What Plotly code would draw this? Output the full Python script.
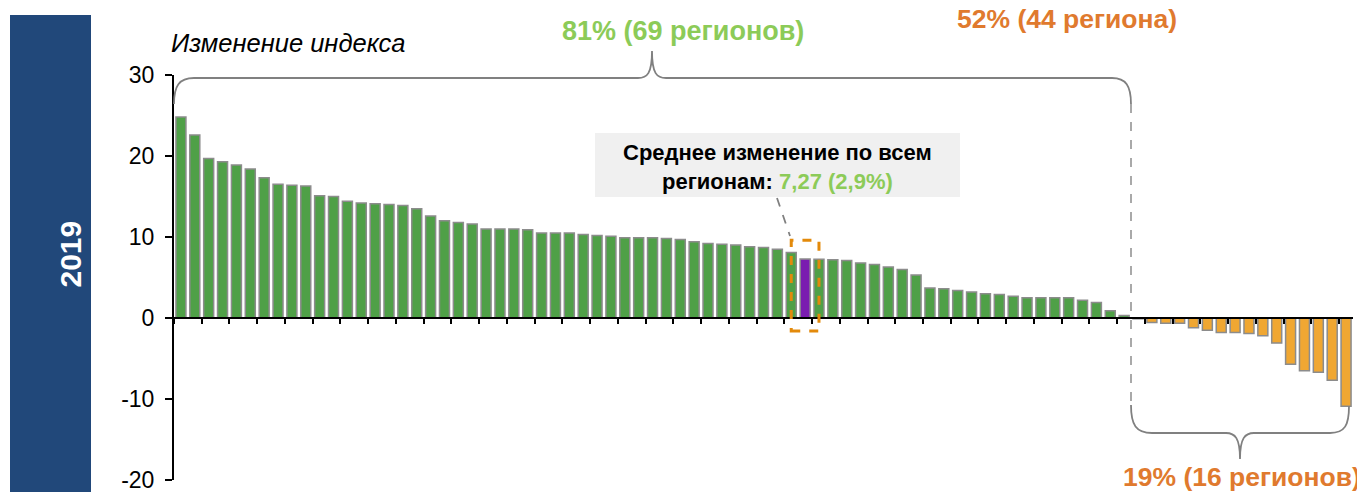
import plotly.graph_objects as go

# ---------------- data ----------------
regions = [str(i) for i in range(1, 86)]
values = [24.8, 22.6, 19.7, 19.3, 18.9, 18.4, 17.3, 16.5, 16.4, 16.3,
          15.1, 15.0, 14.4, 14.2, 14.1, 14.0, 13.9, 13.5, 12.6, 12.0,
          11.8, 11.6, 11.0, 11.0, 11.0, 10.9, 10.5, 10.5, 10.5, 10.3,
          10.2, 10.1, 9.9, 9.9, 9.9, 9.8, 9.7, 9.4, 9.2, 9.1,
          9.0, 8.8, 8.7, 8.5, 8.1, 7.27, 7.25, 7.2, 7.1, 6.8,
          6.6, 6.3, 6.0, 5.3, 3.7, 3.6, 3.4, 3.2, 3.0, 2.9,
          2.7, 2.5, 2.5, 2.5, 2.5, 2.2, 1.9, 0.9, 0.3,
          -0.1, -0.55, -0.65, -0.65, -1.2, -1.5, -1.8, -1.8, -1.9, -2.2,
          -3.1, -5.7, -6.5, -6.7, -7.7, -10.9]
mean_region = "46"           # bar that stands for the average over all regions
y_ticks = [-20, -10, 0, 10, 20, 30]

title_text = "Изменение индекса"
year_text = "2019"
growth_text = "81% (69 регионов)"
above_avg_text = "52% (44 региона)"
decline_text = "19% (16 регионов)"
mean_line1 = "Среднее изменение по всем"
mean_label = "регионам: "
mean_value = "7,27 (2,9%)"

# ---------------- styles ----------------
GREEN = "#4FA047"
ORANGE = "#F0A732"
PURPLE = "#7A1CB0"
OUTLINE = "#8C8C8C"
LIGHT_GREEN = "#8CCB58"
TEXT_ORANGE = "#E07A2E"
NAVY = "#21487A"
FONT = "Arial, 'Liberation Sans', sans-serif"

colors = []
for r, v in zip(regions, values):
    if r == mean_region:
        colors.append(PURPLE)
    elif v >= 0:
        colors.append(GREEN)
    else:
        colors.append(ORANGE)

# the page body has an 8px margin: the figure is placed at (8, 8)
OFF = 8
WIN_W, WIN_H = 1365, 492
W, H = WIN_W - OFF, WIN_H - OFF
PLOT_L, PLOT_R, PLOT_T, PLOT_B = 174, 1353, 75, 480      # window pixels
ML, MR, MT, MB = PLOT_L - OFF, WIN_W - PLOT_R, PLOT_T - OFF, WIN_H - PLOT_B
PW, PH = PLOT_R - PLOT_L, PLOT_B - PLOT_T


def px(x):
    return (x - PLOT_L) / PW


def py(y):
    return (PLOT_B - y) / PH


def path(cmds):
    out = []
    for c in cmds:
        if isinstance(c, str):
            out.append(c)
        else:
            out.append(f"{px(c[0]):.5f},{py(c[1]):.5f}")
    return " ".join(out)


fig = go.Figure()
fig.add_trace(go.Bar(
    x=regions, y=values,
    marker=dict(color=colors, line=dict(color=OUTLINE, width=1.5)),
    hoverinfo="x+y",
))

shapes = []
# navy side panel
shapes.append(dict(type="rect", xref="paper", yref="paper",
                   x0=px(10), x1=px(91), y0=py(WIN_H + 5), y1=py(15),
                   fillcolor=NAVY, line=dict(width=0), layer="below"))
# top brace
top_brace = path(["M", (174, 104), "C", (174, 86), (179, 78), (194, 78),
                  "L", (638, 78), "C", (647, 78), (652, 74), (652, 51),
                  "C", (652, 74), (657, 78), (666, 78),
                  "L", (1112, 78), "C", (1126, 78), (1131, 86), (1131, 104)])
shapes.append(dict(type="path", xref="paper", yref="paper", path=top_brace,
                   line=dict(color="#808080", width=1.8)))
# bottom brace
bot_brace = path(["M", (1131, 405), "C", (1131, 425), (1136, 433), (1152, 433),
                  "L", (1226, 433), "C", (1235, 433), (1240, 438), (1240, 459),
                  "C", (1240, 438), (1245, 433), (1254, 433),
                  "L", (1330, 433), "C", (1345, 433), (1349, 425), (1349, 406)])
shapes.append(dict(type="path", xref="paper", yref="paper", path=bot_brace,
                   line=dict(color="#808080", width=1.8)))
# dashed separator
shapes.append(dict(type="line", xref="paper", yref="paper",
                   x0=px(1131), x1=px(1131), y0=py(104), y1=py(405),
                   line=dict(color="#A0A0A0", width=1.8, dash="dash")))
# mean box
shapes.append(dict(type="rect", xref="paper", yref="paper",
                   x0=px(595), x1=px(960), y0=py(197), y1=py(133),
                   fillcolor="#F0F0F0", line=dict(width=0), layer="below"))
# leader line
shapes.append(dict(type="line", xref="paper", yref="paper",
                   x0=px(777), y0=py(198), x1=px(790), y1=py(236),
                   line=dict(color="#808080", width=1.8, dash="dash")))
# orange dashed highlight around the mean bar
mi = regions.index(mean_region)
shapes.append(dict(type="rect", xref="x", yref="y",
                   x0=mi - 1, x1=mi + 1, y0=-1.6, y1=9.6,
                   line=dict(color="#E38A0B", width=3, dash="dash")))

annotations = [
    dict(text=f"<b>{year_text}</b>", xref="paper", yref="paper",
         x=px(51), y=py(254), showarrow=False, textangle=-90,
         font=dict(family=FONT, size=30, color="white")),
    dict(text=f"<i>{title_text}</i>", xref="paper", yref="paper",
         x=px(169), y=py(43), xanchor="left", yanchor="middle", showarrow=False,
         font=dict(family=FONT, size=25.5, color="black")),
    dict(text=f"<b>{growth_text}</b>", xref="paper", yref="paper",
         x=px(683), y=py(31), xanchor="center", yanchor="middle", showarrow=False,
         font=dict(family=FONT, size=27, color=LIGHT_GREEN)),
    dict(text=f"<b>{above_avg_text}</b>", xref="paper", yref="paper",
         x=px(1067), y=py(19), xanchor="center", yanchor="middle", showarrow=False,
         font=dict(family=FONT, size=26.5, color=TEXT_ORANGE)),
    dict(text=f"<b>{decline_text}</b>", xref="paper", yref="paper",
         x=px(1242), y=py(477), xanchor="center", yanchor="middle", showarrow=False,
         font=dict(family=FONT, size=26.5, color=TEXT_ORANGE)),
    dict(text=f"<b>{mean_line1}</b>", xref="paper", yref="paper",
         x=px(777), y=py(153), xanchor="center", yanchor="middle", showarrow=False,
         font=dict(family=FONT, size=22, color="black")),
    dict(text=f"<b>{mean_label}<span style='color:{LIGHT_GREEN}'>{mean_value}</span></b>",
         xref="paper", yref="paper",
         x=px(777), y=py(181), xanchor="center", yanchor="middle", showarrow=False,
         font=dict(family=FONT, size=22, color="black")),
]

fig.update_layout(
    width=W, height=H,
    margin=dict(l=ML, r=MR, t=MT, b=MB, pad=0, autoexpand=False),
    paper_bgcolor="white", plot_bgcolor="white",
    showlegend=False, bargap=0.28,
    shapes=shapes, annotations=annotations,
    font=dict(family=FONT, color="black"),
    xaxis=dict(type="category", range=[-0.5, len(regions) - 0.5],
               anchor="free", position=py(318),
               showline=True, linecolor="black", linewidth=2,
               ticks="outside", tickson="boundaries", ticklen=5, tickwidth=2,
               tickcolor="black", showticklabels=False, showgrid=False,
               zeroline=False, fixedrange=True),
    yaxis=dict(range=[-20, 30], tickvals=y_ticks, ticktext=[str(t) for t in y_ticks],
               showline=True, linecolor="black", linewidth=2,
               ticks="outside", ticklen=7, tickwidth=2, tickcolor="black",
               ticklabelstandoff=6, ticklabeloverflow="allow",
               tickfont=dict(family=FONT, size=23, color="black"),
               showgrid=False, zeroline=False, fixedrange=True),
)

fig.write_html("out.html")
